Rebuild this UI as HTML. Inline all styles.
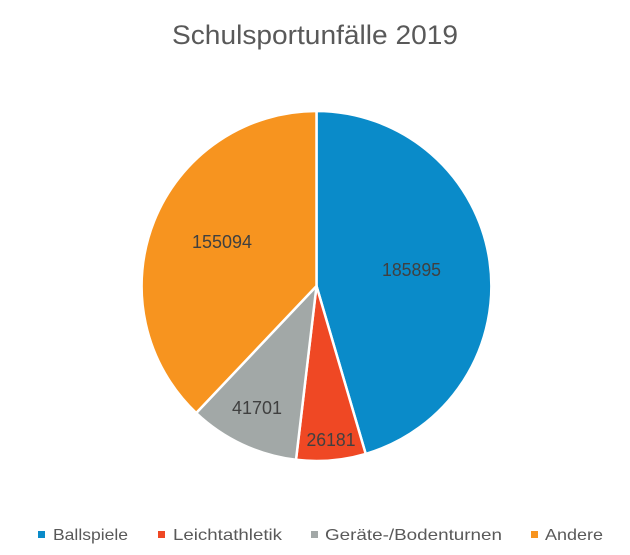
<!DOCTYPE html>
<html>
<head>
<meta charset="utf-8">
<style>
  html, body { margin:0; padding:0; background:#ffffff; }
  body { width:630px; height:555px; overflow:hidden; }
  svg { display:block; }
  text { font-family: "Liberation Sans", "DejaVu Sans", sans-serif; }
</style>
</head>
<body>
<svg width="630" height="555" viewBox="0 0 630 555" xmlns="http://www.w3.org/2000/svg">
  <rect x="0" y="0" width="630" height="555" fill="#ffffff"/>
  <text x="315" y="44" text-anchor="middle" font-size="27" fill="#595959" textLength="286" lengthAdjust="spacingAndGlyphs">Schulsportunfälle 2019</text>

  <g stroke="#ffffff" stroke-width="2.5" stroke-linejoin="round">
    <!-- Ballspiele -->
    <path d="M316.5,286 L316.5,111 A175,175 0 0,1 365.7,453.9 Z" fill="#0A8BC9"/>
    <!-- Leichtathletik -->
    <path d="M316.5,286 L365.7,453.9 A175,175 0 0,1 296.0,459.8 Z" fill="#EF4824"/>
    <!-- Geräte-/Bodenturnen -->
    <path d="M316.5,286 L296.0,459.8 A175,175 0 0,1 196.2,413.0 Z" fill="#A2A8A7"/>
    <!-- Andere -->
    <path d="M316.5,286 L196.2,413.0 A175,175 0 0,1 316.5,111 Z" fill="#F7941F"/>
  </g>

  <g font-size="18" fill="#404040" text-anchor="middle">
    <text x="411.5" y="276" textLength="59" lengthAdjust="spacingAndGlyphs">185895</text>
    <text x="222" y="248" textLength="60" lengthAdjust="spacingAndGlyphs">155094</text>
    <text x="257" y="414" textLength="50" lengthAdjust="spacingAndGlyphs">41701</text>
    <text x="331" y="446" textLength="49" lengthAdjust="spacingAndGlyphs">26181</text>
  </g>

  <g font-size="16" fill="#595959">
    <rect x="38" y="531" width="7" height="7" fill="#0A8BC9"/>
    <text x="53" y="540" textLength="75" lengthAdjust="spacingAndGlyphs">Ballspiele</text>
    <rect x="158" y="531" width="7" height="7" fill="#EF4824"/>
    <text x="173" y="540" textLength="109" lengthAdjust="spacingAndGlyphs">Leichtathletik</text>
    <rect x="311" y="531" width="7" height="7" fill="#A2A8A7"/>
    <text x="325" y="540" textLength="177" lengthAdjust="spacingAndGlyphs">Geräte-/Bodenturnen</text>
    <rect x="531" y="531" width="7" height="7" fill="#F7941F"/>
    <text x="545" y="540" textLength="58" lengthAdjust="spacingAndGlyphs">Andere</text>
  </g>
</svg>
</body>
</html>
